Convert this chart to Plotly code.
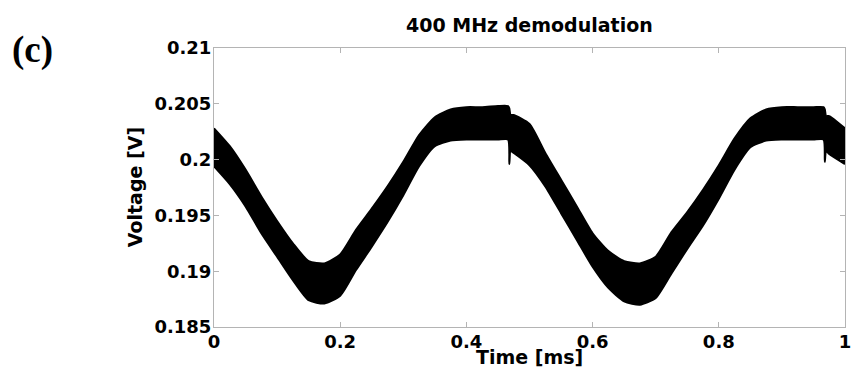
import plotly.graph_objects as go

# Time axis samples [ms]
t = [0, 0.025, 0.05, 0.075, 0.1, 0.125, 0.15, 0.175, 0.2, 0.225, 0.25, 0.275,
     0.3, 0.325, 0.35, 0.375, 0.4, 0.425, 0.45, 0.466, 0.468, 0.470, 0.475,
     0.5, 0.525, 0.55, 0.575, 0.6, 0.625, 0.65, 0.675, 0.7, 0.725, 0.75, 0.775,
     0.8, 0.825, 0.85, 0.875, 0.9, 0.925, 0.95, 0.966, 0.968, 0.970, 0.975, 1.0]

# Upper envelope of the noisy demodulated signal [V]
v_upper = [0.2028, 0.2012, 0.1991, 0.1967, 0.1945, 0.1925, 0.1909, 0.1907, 0.1915,
           0.1937, 0.1956, 0.1976, 0.1998, 0.2022, 0.2038, 0.2045, 0.2047, 0.2047,
           0.2048, 0.2048, 0.2046, 0.2040, 0.2040, 0.2032, 0.2006, 0.1982, 0.1958,
           0.1934, 0.1918, 0.1909, 0.1907, 0.1913, 0.1935, 0.1953, 0.1973, 0.1995,
           0.2019, 0.2037, 0.2045, 0.2047, 0.2047, 0.2047, 0.2047, 0.2045, 0.2039,
           0.2039, 0.2028]

# Lower envelope [V]
v_lower = [0.1994, 0.1978, 0.1958, 0.1934, 0.1913, 0.1892, 0.1874, 0.1871, 0.1878,
           0.1901, 0.1922, 0.1944, 0.1968, 0.1994, 0.2012, 0.2017, 0.2018, 0.2018,
           0.2018, 0.2018, 0.1996, 0.2008, 0.2006, 0.1995, 0.1976, 0.1952, 0.1928,
           0.1904, 0.1885, 0.1873, 0.1870, 0.1876, 0.1898, 0.1920, 0.1941, 0.1965,
           0.1991, 0.2011, 0.2017, 0.2018, 0.2018, 0.2018, 0.2018, 0.1998, 0.2008,
           0.2005, 0.1996]

x_ticks = [0, 0.2, 0.4, 0.6, 0.8, 1]
x_ticktext = ["0", "0.2", "0.4", "0.6", "0.8", "1"]
y_ticks = [0.185, 0.19, 0.195, 0.2, 0.205, 0.21]
y_ticktext = ["0.185", "0.19", "0.195", "0.2", "0.205", "0.21"]

fig = go.Figure()
fig.add_trace(go.Scatter(x=t, y=v_lower, mode="lines",
                         line=dict(color="black", width=2, shape="spline", smoothing=0.6),
                         showlegend=False, hoverinfo="skip"))
fig.add_trace(go.Scatter(x=t, y=v_upper, mode="lines", fill="tonexty",
                         fillcolor="black",
                         line=dict(color="black", width=2, shape="spline", smoothing=0.6),
                         showlegend=False))

tickfont = dict(family="DejaVu Sans", size=18, color="black", weight="bold")
axis_common = dict(showline=True, linecolor="#b4b4b4", linewidth=1, mirror="ticks",
                   ticks="inside", ticklen=5, tickcolor="#b4b4b4", showgrid=False,
                   zeroline=False, tickfont=tickfont)

# page body has an 8px default margin, so the figure is offset by 8px
fig.update_layout(
    width=853, height=373,
    margin=dict(l=206, r=10, t=40, b=54),
    paper_bgcolor="white", plot_bgcolor="white",
    xaxis=dict(range=[0, 1], tickvals=x_ticks, ticktext=x_ticktext,
               ticklabelstandoff=-2, **axis_common),
    yaxis=dict(range=[0.185, 0.21], tickvals=y_ticks, ticktext=y_ticktext,
               ticklabelstandoff=-2, **axis_common),
    annotations=[
        dict(text="400 MHz demodulation", xref="paper", yref="paper", x=0.5, y=1.082,
             xanchor="center", yanchor="middle", showarrow=False,
             font=dict(family="DejaVu Sans", size=19, color="black", weight="bold")),
        dict(text="Time [ms]", xref="paper", yref="paper", x=0.5, y=-0.1075,
             xanchor="center", yanchor="middle", showarrow=False,
             font=dict(family="DejaVu Sans", size=19, color="black", weight="bold")),
        dict(text="Voltage [V]", xref="paper", yref="paper", x=-0.1256, y=0.5,
             xanchor="center", yanchor="middle", showarrow=False, textangle=-90,
             font=dict(family="DejaVu Sans", size=19, color="black", weight="bold")),
        dict(text="(c)", xref="paper", yref="paper", x=-0.2873, y=0.993,
             xanchor="center", yanchor="middle", showarrow=False,
             font=dict(family="Liberation Serif", size=37, color="black", weight="bold")),
    ],
)

fig.write_html("out.html")
